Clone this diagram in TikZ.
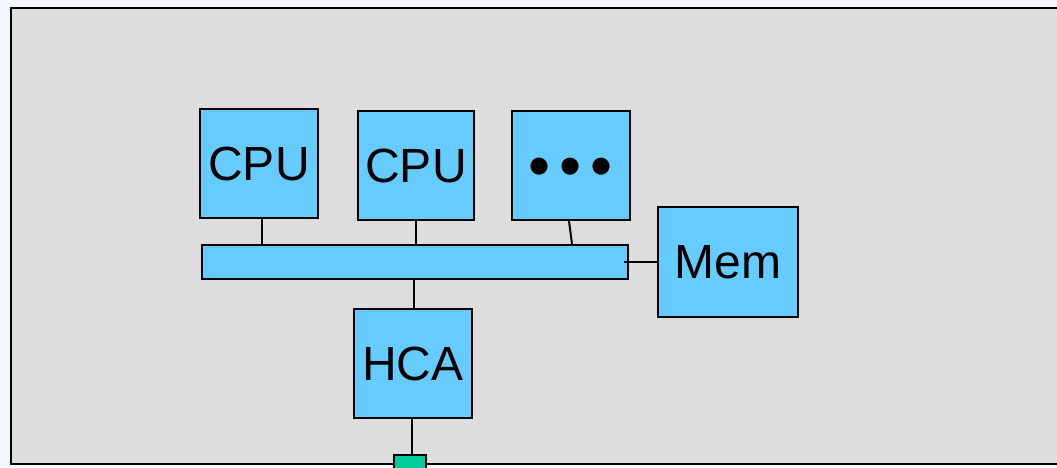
\documentclass[tikz,border=0pt]{standalone}
\usepackage{fontspec}
\setmainfont{Liberation Sans}
\definecolor{boxblue}{HTML}{66CCFF}
\definecolor{panelgray}{HTML}{DDDDDD}
\definecolor{portgreen}{HTML}{00CC99}
\definecolor{pagetint}{HTML}{F4F6FF}
\tikzset{
  unit/.style={draw=black, line width=2pt, fill=boxblue, inner sep=0pt,
    font=\fontsize{48}{52}\selectfont},
  link/.style={draw=black, line width=2pt}
}
\begin{document}
\begin{tikzpicture}[x=1pt, y=-1pt]
  \useasboundingbox (0,0) rectangle (1057,467);
  \clip (0,0) rectangle (1057,467);
  \fill[pagetint] (0,0) rectangle (1057,467);
  \draw[fill=panelgray, line width=2.5pt] (1080,8) -- (11,8) -- (11,464) -- (1080,464);

  % boxes
  \node[unit, minimum width=118pt, minimum height=109pt] (cpua) at (259,163.5) {CPU};
  \node[unit, minimum width=116pt, minimum height=109pt] (cpub) at (416,165.5) {CPU};
  \node[unit, minimum width=118pt, minimum height=109pt] (dots) at (571,165.5) {\raisebox{-22pt}[0pt][0pt]{\fontsize{63}{70}\selectfont •\hspace{9pt}•\hspace{9pt}•}};
  \node[unit, minimum width=426pt, minimum height=34pt] (bus) at (415,262) {};
  \node[unit, minimum width=140pt, minimum height=110pt] (mem) at (728,262) {Mem};
  \node[unit, minimum width=118pt, minimum height=109pt] (hca) at (413,363.5) {HCA};
  \node[draw=black, line width=2pt, fill=portgreen, minimum width=32pt, minimum height=20pt] (port) at (410,465) {};

  % links
  \draw[link] ([xshift=3pt]cpua.south) -- ([xshift=3pt]cpua.south |- bus.north);
  \draw[link] (cpub.south) -- (cpub.south |- bus.north);
  \draw[link] ([xshift=-2pt]dots.south) -- ([xshift=1pt]dots.south |- bus.north);
  \draw[link] ([xshift=-5pt]bus.east) -- (mem.west);
  \draw[link] ([xshift=1pt]hca.north) -- ([xshift=1pt]hca.north |- bus.south);
  \draw[link] ([xshift=-1pt]hca.south) -- ([xshift=-1pt]hca.south |- port.north);
\end{tikzpicture}
\end{document}
